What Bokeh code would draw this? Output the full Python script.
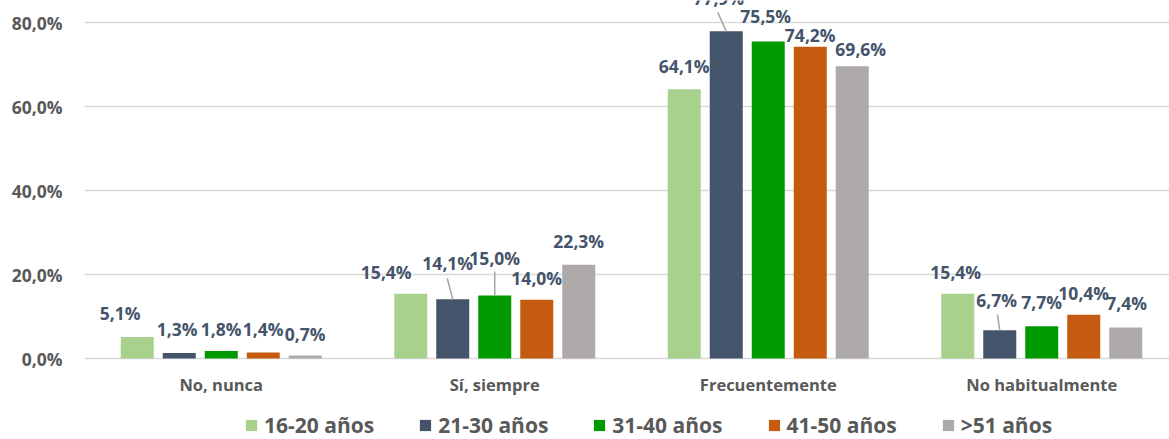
from bokeh.plotting import figure
from bokeh.models import (ColumnDataSource, Range1d, FixedTicker, Legend, LegendItem)
from bokeh.core.properties import value
from bokeh.embed import file_html
from bokeh.resources import INLINE

# ---------------- data ----------------
categories = ["No, nunca", "Sí, siempre", "Frecuentemente", "No habitualmente"]
series_names = ["16-20 años", "21-30 años", "31-40 años", "41-50 años", ">51 años"]
s_16_20 = [5.1, 15.4, 64.1, 15.4]
s_21_30 = [1.3, 14.1, 77.9, 6.7]
s_31_40 = [1.8, 15.0, 75.5, 7.7]
s_41_50 = [1.4, 14.0, 74.2, 10.4]
s_51 = [0.7, 22.3, 69.6, 7.4]
y_ticks = [0, 20, 40, 60, 80]
y_tick_labels = ["0,0%", "20,0%", "40,0%", "60,0%", "80,0%"]

series = [s_16_20, s_21_30, s_31_40, s_41_50, s_51]

# ---------------- style ----------------
colors = ["#A9D18E", "#44546A", "#009A00", "#C55A11", "#AEAAAA"]
FONT = "Open Sans"
PX_X = 273.5     # px per category unit
PX_Y = 4.2       # px per percentage point
W, H = 1169, 439
LEFT = 84
Y_TOP = 80 + 22 / PX_Y
bar_w = 33 / PX_X
bar_step = 42 / PX_X

# label offsets in px (dx right, dy up from bar top) [series][category]
lab_dx = [[-17, -24.5, 0, -2],
          [-2, -5, -7.5, -3],
          [0, 0, -2.5, 0],
          [0, 0, 0, 0],
          [0, 0, 8.5, 1]]
lab_dy = [[23.6, 22, 23, 22],
          [24.5, 36, 33, 30],
          [22, 38, 25, 24],
          [24, 22, 12, 22],
          [22, 24, 17, 24]]
# leader lines: (series, category, start dx px, start dy px)
leaders = [(1, 1, -5.5, 21), (2, 1, 0, 24), (1, 2, -8.5, 19), (1, 3, -2.3, 16)]

p = figure(width=W, height=H, output_backend="svg", toolbar_location=None,
           x_range=Range1d(0, (W - LEFT) / PX_X),
           y_range=Range1d(Y_TOP - H / PX_Y, Y_TOP),
           x_axis_location=None,
           min_border_left=LEFT, min_border_right=0,
           min_border_top=0, min_border_bottom=0)
p.outline_line_color = None
p.background_fill_color = "white"
p.border_fill_color = "white"

p.xgrid.visible = False
p.ygrid.ticker = FixedTicker(ticks=y_ticks)
p.ygrid.grid_line_color = "#D9D9D9"
p.ygrid.grid_line_width = 1.3

ya = p.yaxis[0]
ya.ticker = FixedTicker(ticks=y_ticks)
ya.major_label_overrides = {t: l for t, l in zip(y_ticks, y_tick_labels)}
ya.axis_line_color = None
ya.major_tick_line_color = None
ya.minor_tick_line_color = None
ya.major_tick_out = 0
ya.major_tick_in = 0
ya.minor_tick_out = 0
ya.major_label_standoff = 22
ya.major_label_text_font = FONT
ya.major_label_text_font_size = "17.5px"
ya.major_label_text_font_style = "bold"
ya.major_label_text_color = "#595959"

centers = [i + 0.5 for i in range(len(categories))]

items = []
lx, ly, lt = [], [], []
for si, (vals, name, col) in enumerate(zip(series, series_names, colors)):
    xs = [c + (si - 2) * bar_step for c in centers]
    src = ColumnDataSource(dict(x=xs, top=vals))
    r = p.vbar(x="x", top="top", bottom=0, width=bar_w, source=src,
               fill_color=col, line_color=None)
    items.append(LegendItem(label=name, renderers=[r]))
    for ci, v in enumerate(vals):
        lx.append(xs[ci] + lab_dx[si][ci] / PX_X)
        ly.append(v + lab_dy[si][ci] / PX_Y)
        lt.append(f"{v:.1f}%".replace(".", ","))

# leader lines
x0, y0, x1, y1 = [], [], [], []
for si, ci, dx, dy in leaders:
    bx = centers[ci] + (si - 2) * bar_step
    v = series[si][ci]
    x0.append(bx + dx / PX_X)
    y0.append(v + dy / PX_Y)
    x1.append(bx)
    y1.append(v)
p.segment(x0=x0, y0=y0, x1=x1, y1=y1, line_color="#A6A6A6", line_width=1.5)

p.text(x=lx, y=ly, text=lt, text_font=value(FONT), text_font_size="17.5px",
       text_font_style="bold", text_color="#44546A",
       text_align="center", text_baseline="middle")

# category labels
p.text(x=centers, y=[-26 / PX_Y] * len(centers), text=categories,
       text_font=value(FONT), text_font_size="16.5px", text_font_style="bold",
       text_color="#595959", text_align="center", text_baseline="middle")

legend = Legend(items=items, location=(160, 0), orientation="horizontal",
                padding=0, margin=0, spacing=44, label_standoff=6,
                glyph_width=14, glyph_height=14,
                border_line_color=None, background_fill_alpha=0,
                label_text_font=FONT, label_text_font_size="21px",
                label_text_font_style="bold", label_text_color="#595959")
p.add_layout(legend)

open("out.html", "w").write(file_html(p, INLINE))
